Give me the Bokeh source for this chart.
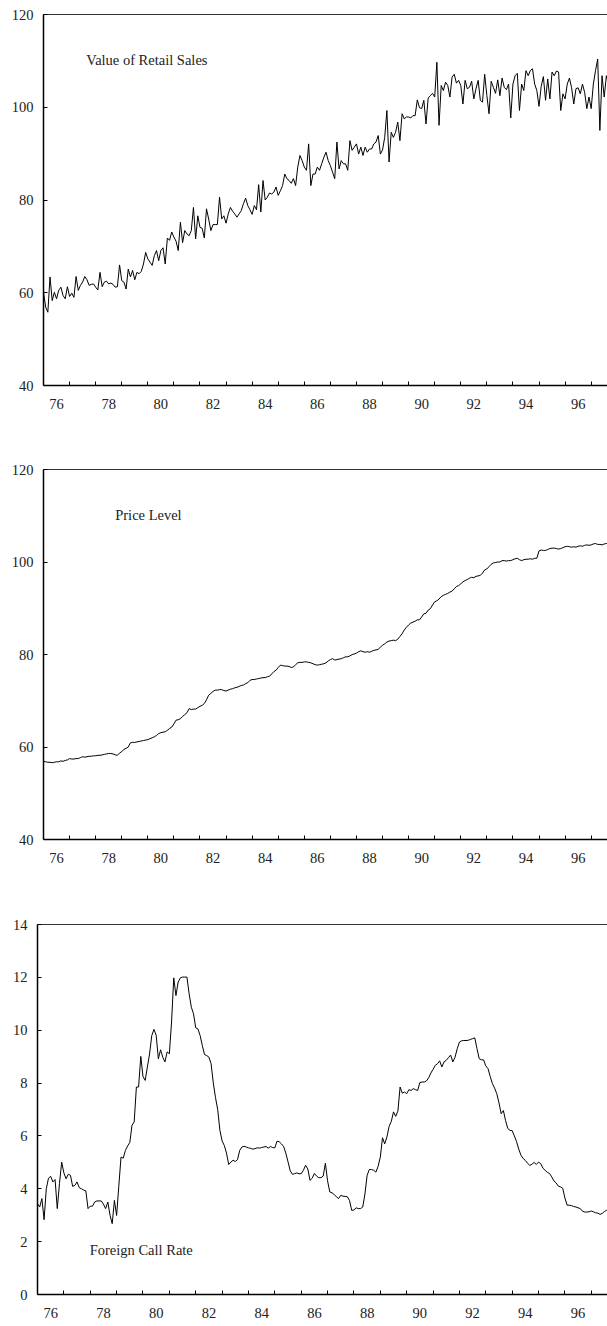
from bokeh.plotting import figure
from bokeh.models import (ColumnDataSource, Range1d, FixedTicker, LinearAxis, Label)
from bokeh.embed import file_html
from bokeh.resources import INLINE

# Monthly series, starting January 1976
start_year = 1976

retail_sales = [
    60.1, 56.9, 55.8, 63.4, 58.3, 60.1, 58.7, 60.5, 61.2, 59.4, 58.7, 61.3,
    59.2, 59.9, 59.0, 63.5, 60.5, 61.6, 62.3, 63.5, 62.8, 61.6, 61.8, 61.9,
    61.2, 60.6, 64.4, 61.3, 62.3, 62.5, 61.9, 62.1, 61.8, 61.2, 61.3, 66.0,
    62.6, 62.3, 60.8, 65.1, 63.4, 64.8, 62.8, 64.4, 64.1, 64.6, 66.2, 68.7,
    67.3, 66.6, 65.9, 68.0, 69.1, 66.9, 69.1, 69.7, 66.2, 71.8, 71.3, 73.1,
    72.0, 71.1, 69.1, 75.2, 70.8, 73.4, 72.7, 72.3, 73.4, 78.4, 71.6, 76.6,
    74.1, 73.9, 71.8, 78.1, 75.9, 73.4, 74.7, 74.7, 74.7, 80.6, 75.9, 76.6,
    75.0, 77.0, 78.4, 77.6, 77.0, 76.3, 77.0, 77.7, 79.2, 80.4, 78.8, 77.9,
    76.9, 78.8, 77.9, 83.3, 77.4, 84.2, 80.0, 80.6, 81.5, 81.3, 81.7, 82.8,
    81.0, 82.0, 83.1, 85.6, 84.6, 84.2, 83.6, 84.6, 83.1, 87.1, 89.6, 88.5,
    87.1, 86.4, 92.1, 83.1, 85.6, 85.6, 87.1, 86.4, 87.8, 89.2, 90.3, 88.5,
    87.4, 86.0, 84.6, 92.5, 86.7, 88.5, 87.8, 87.8, 86.4, 92.8, 90.7, 91.4,
    92.1, 89.9, 91.4, 89.6, 91.4, 90.3, 91.0, 91.0, 92.1, 92.5, 93.9, 89.9,
    90.8, 93.5, 99.3, 88.2, 94.6, 93.5, 94.6, 96.8, 92.8, 98.6, 97.5, 97.9,
    97.9, 97.7, 98.2, 98.2, 101.6, 99.9, 99.7, 101.5, 96.4, 102.0, 102.5, 103.0,
    102.2, 109.7, 96.1, 104.7, 103.6, 105.4, 104.7, 102.2, 106.5, 107.1, 105.2, 105.8,
    104.7, 100.7, 105.8, 104.0, 104.3, 105.6, 101.8, 104.0, 105.8, 101.5, 101.1, 107.1,
    102.5, 98.6, 105.6, 104.3, 103.0, 105.9, 102.5, 106.3, 104.3, 103.8, 105.0, 97.7,
    105.0, 106.8, 107.3, 99.3, 105.0, 103.6, 107.9, 106.8, 107.9, 108.3, 105.0, 103.6,
    100.2, 104.5, 106.6, 101.5, 106.1, 101.8, 107.6, 106.8, 107.8, 107.6, 99.3, 102.9,
    101.8, 105.0, 106.3, 104.2, 100.7, 104.0, 104.2, 102.9, 105.0, 103.2, 99.7, 102.2,
    99.7, 105.0, 107.9, 110.4, 95.0, 106.8, 102.2, 106.8, 105.0,
]

price_level = [
    56.9, 56.8, 56.7, 56.7, 56.6, 56.7, 56.8, 56.8, 57.0, 56.9, 57.1, 57.2,
    57.5, 57.4, 57.4, 57.5, 57.5, 57.7, 57.9, 57.8, 57.9, 58.0, 58.0, 58.1,
    58.1, 58.2, 58.2, 58.3, 58.4, 58.5, 58.6, 58.6, 58.5, 58.3, 58.2, 58.7,
    59.0, 59.5, 59.7, 60.0, 60.9, 61.0, 61.0, 61.1, 61.2, 61.3, 61.4, 61.5,
    61.6, 61.8, 62.0, 62.2, 62.5, 62.9, 63.1, 63.2, 63.3, 63.6, 64.0, 64.3,
    65.0, 65.8, 65.9, 66.1, 66.6, 67.0, 67.4, 68.3, 68.1, 68.2, 68.2, 68.5,
    68.8, 69.0, 69.4, 70.2, 71.2, 71.6, 72.0, 72.3, 72.3, 72.4, 72.4, 72.2,
    72.1, 72.3, 72.5, 72.6, 72.8, 72.9, 73.1, 73.3, 73.4, 73.7, 73.9, 74.4,
    74.6, 74.6, 74.7, 74.8, 74.9, 75.0, 75.0, 75.2, 75.3, 75.8, 76.3, 76.6,
    77.2, 77.7, 77.6, 77.5, 77.5, 77.4, 77.2, 77.3, 77.8, 78.2, 78.3, 78.3,
    78.4, 78.4, 78.3, 78.2, 78.0, 77.8, 77.7, 77.8, 77.9, 78.0, 78.2, 78.6,
    78.9, 79.1, 78.8, 78.9, 79.0, 79.1, 79.3, 79.5, 79.5, 79.7, 80.0, 80.1,
    80.3, 80.6, 80.8, 80.6, 80.5, 80.6, 80.5, 80.7, 80.9, 81.0, 81.1, 81.6,
    82.0, 82.3, 82.7, 82.9, 83.0, 83.1, 83.0, 83.3, 83.9, 84.5, 85.3, 85.9,
    86.4, 86.8, 87.0, 87.2, 87.5, 87.5, 88.1, 88.8, 88.9, 89.6, 89.9, 90.7,
    91.4, 91.6, 92.0, 92.5, 92.8, 93.0, 93.2, 93.5, 93.7, 94.2, 94.7, 94.9,
    95.3, 95.7, 96.0, 96.2, 96.5, 96.7, 96.6, 96.9, 97.0, 97.1, 97.6, 98.3,
    98.5, 99.0, 99.5, 99.8, 99.9, 100.0, 100.0, 100.3, 100.3, 100.2, 100.3, 100.3,
    100.5, 100.7, 100.8, 100.5, 100.3, 100.5, 100.6, 100.6, 100.7, 100.6, 100.8, 100.8,
    102.4, 102.6, 102.5, 102.5, 102.7, 102.9, 103.0, 103.0, 102.9, 102.8, 102.9, 103.1,
    103.3, 103.4, 103.3, 103.2, 103.3, 103.2, 103.4, 103.5, 103.4, 103.6, 103.7, 103.6,
    103.7, 103.9, 104.0, 103.8, 103.8, 103.7, 103.9, 104.0, 103.9,
]

foreign_call_rate = [
    3.44, 3.31, 3.63, 2.83, 4.00, 4.40, 4.47, 4.26, 4.35, 3.25, 4.20, 5.01,
    4.60, 4.38, 4.55, 4.51, 4.09, 4.13, 4.26, 4.04, 4.00, 3.95, 3.92, 3.25,
    3.34, 3.34, 3.50, 3.54, 3.54, 3.54, 3.42, 3.25, 3.50, 3.00, 2.68, 3.56,
    2.99, 4.10, 5.20, 5.16, 5.45, 5.62, 5.75, 6.40, 6.53, 7.85, 7.85, 9.01,
    8.25, 8.10, 8.61, 9.10, 9.80, 10.03, 9.81, 8.92, 9.26, 8.98, 8.80, 9.18,
    9.11, 10.31, 11.98, 11.31, 11.82, 11.98, 12.01, 12.01, 12.01, 11.38, 10.87, 10.62,
    10.09, 10.05, 9.80, 9.42, 9.08, 9.04, 8.98, 8.73, 8.00, 7.45, 7.00, 6.21,
    5.81, 5.64, 5.35, 4.92, 5.01, 5.08, 5.03, 5.10, 5.45, 5.58, 5.61, 5.58,
    5.55, 5.53, 5.50, 5.52, 5.55, 5.54, 5.56, 5.58, 5.60, 5.54, 5.60, 5.56,
    5.55, 5.80, 5.78, 5.70, 5.60, 5.35, 5.02, 4.68, 4.55, 4.57, 4.60, 4.57,
    4.57, 4.70, 4.89, 4.75, 4.32, 4.40, 4.58, 4.48, 4.42, 4.42, 4.48, 4.97,
    4.30, 3.88, 3.85, 3.78, 3.70, 3.63, 3.75, 3.72, 3.71, 3.70, 3.55, 3.18,
    3.20, 3.28, 3.25, 3.25, 3.31, 3.80, 4.51, 4.73, 4.73, 4.70, 4.63, 4.85,
    5.20, 5.93, 5.70, 5.96, 6.36, 6.55, 6.91, 6.74, 6.94, 7.85, 7.62, 7.66,
    7.60, 7.75, 7.72, 7.79, 7.75, 7.72, 8.02, 8.04, 8.04, 8.08, 8.20, 8.38,
    8.52, 8.67, 8.73, 8.84, 8.61, 8.80, 8.86, 8.96, 9.06, 8.80, 8.98, 9.30,
    9.55, 9.60, 9.61, 9.61, 9.62, 9.65, 9.68, 9.71, 9.30, 8.92, 8.88, 8.88,
    8.65, 8.55, 8.25, 7.98, 7.81, 7.60, 7.25, 6.84, 6.96, 6.58, 6.28, 6.21,
    6.20, 6.00, 5.78, 5.50, 5.27, 5.15, 5.07, 4.97, 4.88, 4.93, 5.00, 4.92,
    5.01, 4.95, 4.78, 4.70, 4.62, 4.58, 4.45, 4.30, 4.22, 4.10, 4.07, 4.02,
    3.65, 3.38, 3.38, 3.36, 3.33, 3.31, 3.28, 3.25, 3.15, 3.12, 3.12, 3.13,
    3.16, 3.13, 3.09, 3.08, 3.03, 3.07, 3.14, 3.19, 3.22,
]

# Year labels shown under every other year, centred within the year
label_years = [1976, 1978, 1980, 1982, 1984, 1986, 1988, 1990, 1992, 1994, 1996]
x_tick_labels = ["76", "78", "80", "82", "84", "86", "88", "90", "92", "94", "96"]

SERIF = "Liberation Serif"
FONT_SIZE = "14.5px"


def time_axis(values):
    return [start_year + k / 12.0 for k in range(len(values))]


def make_panel(values, y_lo, y_hi, y_ticks, title, title_x, title_y,
               height, top, bottom, left, x_end):
    p = figure(width=607, height=height, output_backend="svg",
               toolbar_location=None, x_range=Range1d(start_year, x_end),
               y_range=Range1d(y_lo, y_hi), min_border_top=top,
               min_border_bottom=bottom, min_border_left=left,
               min_border_right=0, outline_line_color=None,
               background_fill_color="white", border_fill_color="white")
    p.grid.visible = False

    src = ColumnDataSource(dict(t=time_axis(values), v=values))
    p.line("t", "v", source=src, line_color="black", line_width=1.0)

    # bottom axis: year boundaries as inward ticks, labels centred in the year
    xa = p.xaxis[0]
    mids = [y + 0.5 for y in label_years]
    xa.ticker = FixedTicker(ticks=mids,
                            minor_ticks=list(range(start_year + 1, 1998)))
    xa.major_label_overrides = {m: lab for m, lab in zip(mids, x_tick_labels)}
    xa.major_tick_in = 0
    xa.major_tick_out = 0
    xa.minor_tick_in = 4
    xa.minor_tick_out = 0
    xa.minor_tick_line_color = "black"
    xa.axis_line_width = 1.5
    xa.axis_line_color = "black"
    xa.major_label_standoff = 13
    xa.major_label_text_font = SERIF
    xa.major_label_text_font_size = FONT_SIZE
    xa.major_label_text_color = "#222222"

    ya = p.yaxis[0]
    ya.ticker = FixedTicker(ticks=y_ticks)
    ya.major_tick_in = 4
    ya.major_tick_out = 0
    ya.minor_tick_in = 0
    ya.minor_tick_out = 0
    ya.axis_line_width = 1.5
    ya.axis_line_color = "black"
    ya.major_label_standoff = 10
    ya.major_label_text_font = SERIF
    ya.major_label_text_font_size = FONT_SIZE
    ya.major_label_text_color = "#222222"

    # plain rule along the top of the frame
    top_rule = LinearAxis(ticker=FixedTicker(ticks=[]),
                          major_label_text_font_size="0px",
                          major_tick_in=0, major_tick_out=0,
                          minor_tick_in=0, minor_tick_out=0,
                          axis_line_color="#333333", axis_line_width=1.2)
    p.add_layout(top_rule, "above")

    p.add_layout(Label(x=title_x, y=title_y, text=title, text_font=SERIF,
                       text_font_size=FONT_SIZE, text_color="#222222",
                       text_baseline="middle", text_align="left"))
    return p


p1 = make_panel(retail_sales, 40, 120, [40, 60, 80, 100, 120],
                "Value of Retail Sales", 1977.64, 110.1,
                height=440, top=14, bottom=55, left=43, x_end=1997.626)
p2 = make_panel(price_level, 40, 120, [40, 60, 80, 100, 120],
                "Price Level", 1978.75, 110.2,
                height=450, top=29, bottom=51, left=43, x_end=1997.626)
p3 = make_panel(foreign_call_rate, 0, 14, [0, 2, 4, 6, 8, 10, 12, 14],
                "Foreign Call Rate", 1977.98, 1.68,
                height=436, top=34, bottom=32, left=37, x_end=1997.615)

# each panel is its own root so the frames keep their own left margins
with open("out.html", "w") as f:
    f.write(file_html([p1, p2, p3], INLINE))
